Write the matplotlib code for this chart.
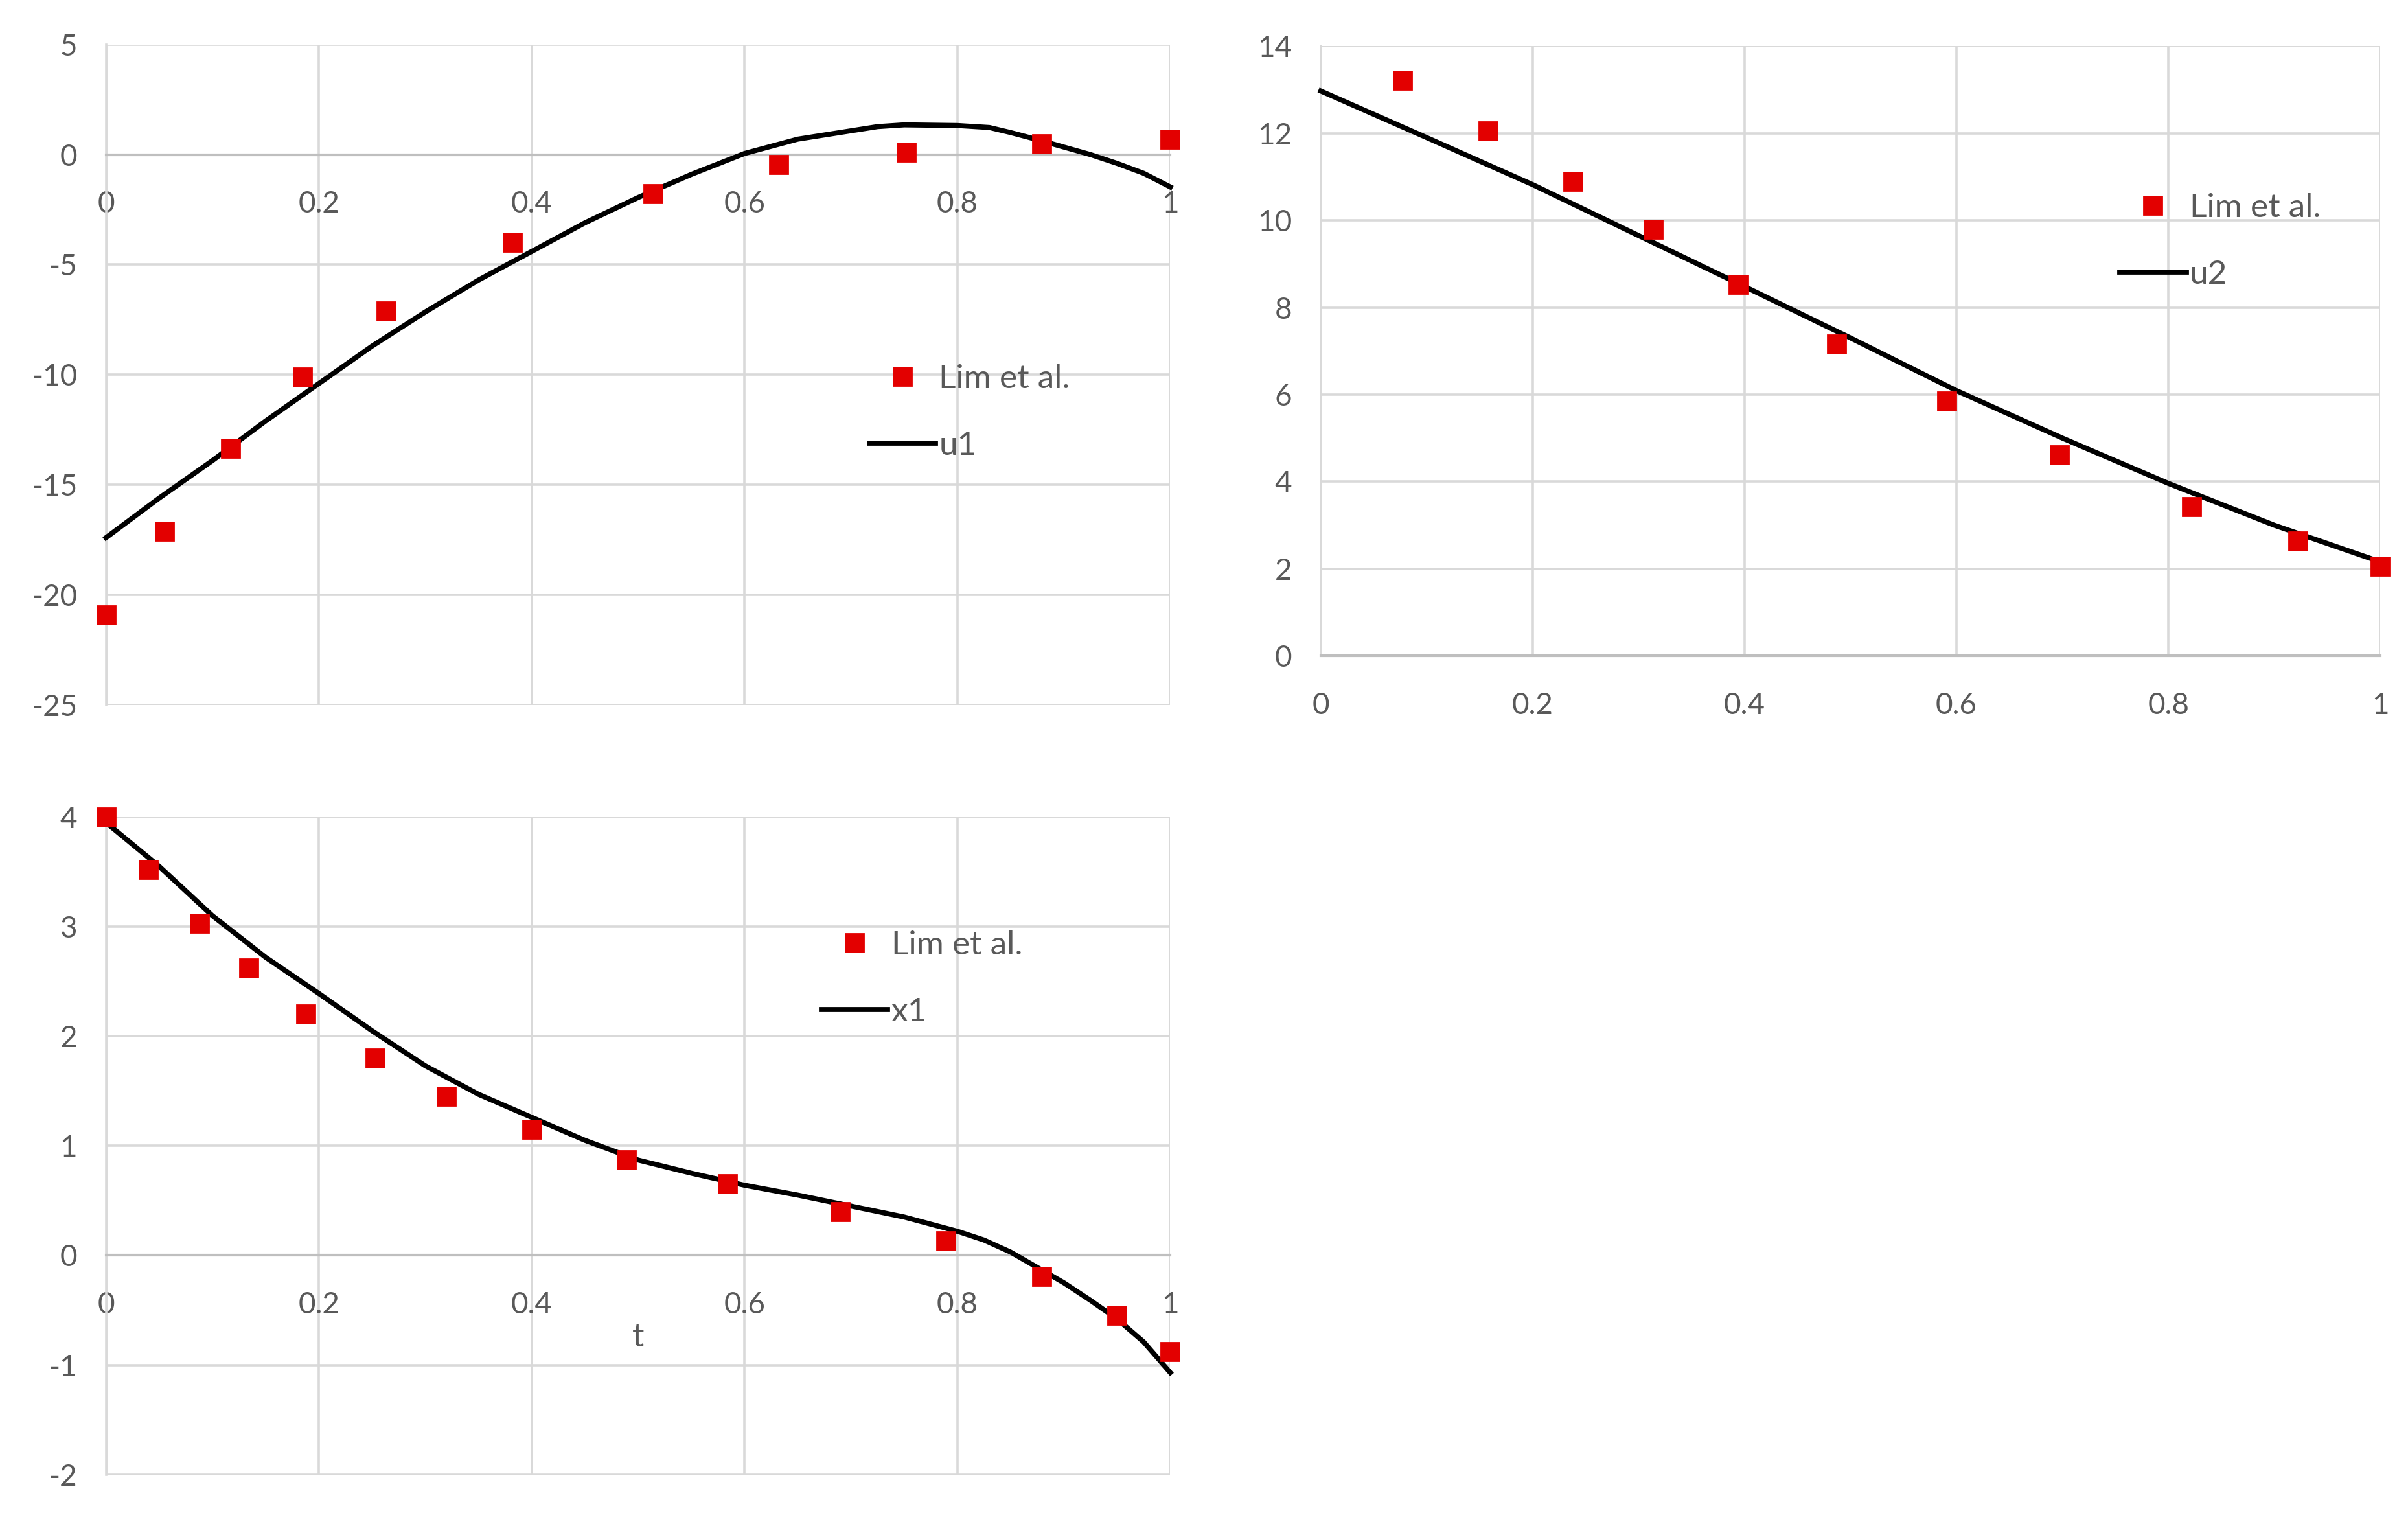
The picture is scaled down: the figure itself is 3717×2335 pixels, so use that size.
import numpy as np
import matplotlib
matplotlib.use('Agg')
import matplotlib.pyplot as plt
from matplotlib.ticker import FuncFormatter, MultipleLocator

plt.rcParams['font.family'] = ['Lato', 'DejaVu Sans']

# ---- u1 ----
u1_lim_t = [0.0, 0.055, 0.117, 0.185, 0.263, 0.382, 0.514, 0.632, 0.752, 0.879, 1.0]
u1_lim = [-20.9, -17.1, -13.35, -10.1, -7.1, -4.0, -1.77, -0.44, 0.1, 0.5, 0.7]
u1_t = [0.0, 0.05, 0.1, 0.15, 0.2, 0.25, 0.3, 0.35, 0.4, 0.45, 0.5, 0.55,
        0.6, 0.65, 0.7, 0.725, 0.75, 0.8, 0.83, 0.85, 0.875, 0.9, 0.925, 0.95,
        0.975, 1.0]
u1 = [-17.4, -15.6, -13.9, -12.1, -10.4, -8.7, -7.15, -5.7, -4.4, -3.1, -1.95, -0.9,
      0.05, 0.7, 1.08, 1.27, 1.35, 1.32, 1.23, 1.0, 0.68, 0.34, 0.0, -0.4,
      -0.85, -1.47]

# ---- u2 ----
u2_lim_t = [0.077, 0.158, 0.238, 0.314, 0.394, 0.487, 0.591, 0.697, 0.822, 0.922, 1.0]
u2_lim = [13.22, 12.06, 10.9, 9.8, 8.53, 7.16, 5.85, 4.62, 3.42, 2.64, 2.05]
u2_t = [0.0, 0.1, 0.2, 0.3, 0.4, 0.5, 0.6, 0.7, 0.8, 0.9, 1.0]
u2 = [12.97, 11.9, 10.82, 9.65, 8.48, 7.3, 6.09, 5.0, 3.96, 3.0, 2.16]

# ---- x1 ----
x1_lim_t = [0.0, 0.040, 0.088, 0.134, 0.188, 0.253, 0.320, 0.400, 0.489, 0.584,
            0.690, 0.789, 0.879, 0.950, 1.0]
x1_lim = [4.0, 3.52, 3.03, 2.62, 2.2, 1.8, 1.45, 1.15, 0.87, 0.65, 0.40, 0.13,
          -0.19, -0.55, -0.88]
x1_t = [0.0, 0.05, 0.1, 0.15, 0.2, 0.25, 0.3, 0.35, 0.4, 0.45, 0.5, 0.55, 0.6,
        0.65, 0.7, 0.75, 0.8, 0.825, 0.85, 0.875, 0.9, 0.925, 0.95, 0.975, 1.0]
x1 = [3.95, 3.55, 3.1, 2.72, 2.39, 2.05, 1.73, 1.47, 1.26, 1.05, 0.87, 0.75, 0.64,
      0.55, 0.45, 0.35, 0.22, 0.14, 0.03, -0.11, -0.25, -0.41, -0.58, -0.79, -1.07]

TXT = '#595959'
GRID = '#D9D9D9'
AXLINE = '#BFBFBF'
RED = '#E30000'
FS = 16.5
LFS = 18.5

fig = plt.figure(figsize=(18.585, 11.675), dpi=200)


def style(ax, ylim, ystep, zero_axis):
    ax.set_xlim(0, 1)
    ax.set_ylim(*ylim)
    ax.xaxis.set_major_locator(MultipleLocator(0.2))
    ax.yaxis.set_major_locator(MultipleLocator(ystep))
    fmt = FuncFormatter(lambda v, p: f'{v:g}')
    ax.xaxis.set_major_formatter(fmt)
    ax.yaxis.set_major_formatter(fmt)
    ax.grid(True, color=GRID, linewidth=1.3, zorder=0)
    ax.set_axisbelow(True)
    for s in ['top', 'right']:
        ax.spines[s].set_visible(False)
    ax.spines['left'].set_color(GRID)
    ax.spines['left'].set_linewidth(1.3)
    ax.spines['bottom'].set_color(AXLINE)
    ax.spines['bottom'].set_linewidth(1.5)
    if zero_axis:
        ax.spines['bottom'].set_position(('data', 0))
    ax.tick_params(length=0, labelsize=FS, labelcolor=TXT)
    ax.tick_params(axis='x', pad=20)
    ax.tick_params(axis='y', pad=16)


def draw(ax, lt, lv, t, v, name, anchor):
    ax.plot(lt, lv, 's', color=RED, markersize=10, linestyle='none',
            clip_on=False, zorder=4, label='Lim et al.')
    ax.plot(t, v, '-', color='black', linewidth=2.8, clip_on=False,
            zorder=3, label=name, solid_joinstyle='round')
    leg = ax.legend(loc='center left', bbox_to_anchor=anchor, frameon=False,
                    fontsize=LFS, handlelength=2.0, handletextpad=0.1,
                    labelspacing=1.1, borderpad=0, borderaxespad=0)
    for txt in leg.get_texts():
        txt.set_color(TXT)


ax1 = fig.add_axes([0.044, 0.534, 0.442, 0.4366])
style(ax1, (-25, 5), 5, True)
draw(ax1, u1_lim_t, u1_lim, u1_t, u1, 'u1', (0.717, 0.443))

ax2 = fig.add_axes([0.5485, 0.5665, 0.44, 0.403])
style(ax2, (0, 14), 2, False)
draw(ax2, u2_lim_t, u2_lim, u2_t, u2, 'u2', (0.754, 0.68))

ax3 = fig.add_axes([0.044, 0.0254, 0.442, 0.4346])
style(ax3, (-2, 4), 1, True)
draw(ax3, x1_lim_t, x1_lim, x1_t, x1, 'x1', (0.672, 0.754))
ax3.set_xlabel('t', fontsize=LFS, color=TXT, labelpad=2)

fig.savefig('out.png', dpi=200)
